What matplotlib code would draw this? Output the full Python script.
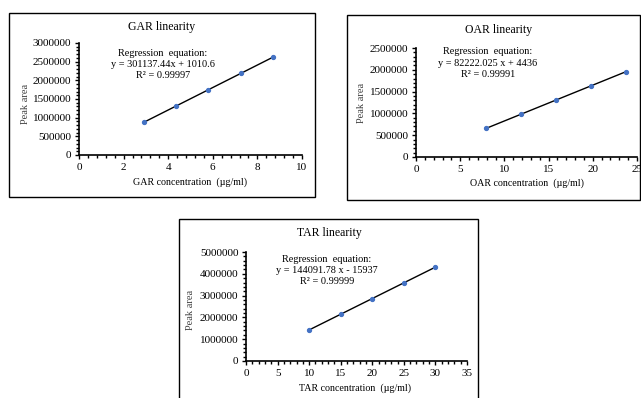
import matplotlib
matplotlib.use("Agg")
import matplotlib.pyplot as plt
from matplotlib.patches import Rectangle
from matplotlib.ticker import MultipleLocator, FuncFormatter
import numpy as np

plt.rcParams['font.family'] = ['Liberation Serif', 'DejaVu Serif']

W, H = 641, 398

gar_x = [2.9, 4.35, 5.8, 7.25, 8.7]
gar_y = [874000, 1311000, 1748000, 2184000, 2621000]
oar_x = [7.9, 11.85, 15.8, 19.75, 23.7]
oar_y = [654000, 979000, 1303000, 1628000, 1953000]
tar_x = [10, 15, 20, 25, 30]
tar_y = [1425000, 2145000, 2866000, 3586000, 4307000]

titles = ["GAR linearity", "OAR linearity", "TAR linearity"]
equations = [
    ["Regression  equation:", "y = 301137.44x + 1010.6", "R² = 0.99997"],
    ["Regression  equation:", "y = 82222.025 x + 4436", "R² = 0.99991"],
    ["Regression  equation:", "y = 144091.78 x - 15937", "R² = 0.99999"],
]
xlabels = ["GAR concentration  (µg/ml)", "OAR concentration  (µg/ml)", "TAR concentration  (µg/ml)"]
ylabel = "Peak area"

fig = plt.figure(figsize=(W / 100, H / 100), dpi=100)


def fx(px):
    return px / W


def fy(py):
    return 1 - py / H


def add_box(x0, y0, x1, y1):
    r = Rectangle((fx(x0), fy(y1)), fx(x1) - fx(x0), fy(y0) - fy(y1),
                  transform=fig.transFigure, fill=False, edgecolor='black', lw=1.0)
    fig.patches.append(r)


def panel(box, ax_px, xs, ys, xlim, xmaj, xmin, ylim, ymaj, ymin, title, title_pos,
          eq, eq_pos, xlabel, xlabel_pos, ylabel_pos):
    add_box(*box)
    x0, y0, x1, y1 = ax_px
    ax = fig.add_axes([fx(x0), fy(y1), fx(x1) - fx(x0), fy(y0) - fy(y1)])
    ax.set_xlim(*xlim)
    ax.set_ylim(*ylim)
    for s in ['top', 'right']:
        ax.spines[s].set_visible(False)
    for s in ['left', 'bottom']:
        ax.spines[s].set_linewidth(1.2)
    ax.xaxis.set_major_locator(MultipleLocator(xmaj))
    ax.xaxis.set_minor_locator(MultipleLocator(xmin))
    ax.yaxis.set_major_locator(MultipleLocator(ymaj))
    ax.yaxis.set_minor_locator(MultipleLocator(ymin))
    ax.yaxis.set_major_formatter(FuncFormatter(lambda v, p: f"{int(round(v))}"))
    ax.xaxis.set_major_formatter(FuncFormatter(lambda v, p: f"{v:g}"))
    ax.tick_params(which='major', direction='out', length=3, width=1, labelsize=8, pad=2.5)
    ax.tick_params(which='minor', direction='out', length=2, width=1)
    ax.patch.set_alpha(0)
    coef = np.polyfit(xs, ys, 1)
    lx = np.array([xs[0], xs[-1]])
    ax.plot(lx, np.polyval(coef, lx), color='black', lw=1.0, zorder=2)
    ax.plot(xs, ys, 'o', color='#4472C4', ms=2.8, zorder=3)
    fig.text(fx(title_pos[0]), fy(title_pos[1]), title, ha='center', va='center', fontsize=8.5)
    for i, line in enumerate(eq):
        fig.text(fx(eq_pos[0]), fy(eq_pos[1] + i * 11.3), line, ha='center', va='center', fontsize=7.4)
    fig.text(fx(xlabel_pos[0]), fy(xlabel_pos[1]), xlabel, ha='center', va='center', fontsize=7.2)
    fig.text(fx(ylabel_pos[0]), fy(ylabel_pos[1]), ylabel, ha='center', va='center',
             fontsize=7.5, rotation=90, color='#404040')
    return ax


panel((9, 13, 315, 197), (79, 43, 302, 155), gar_x, gar_y, (0, 10), 2, 0.4,
      (0, 3000000), 500000, 100000, titles[0], (162, 27), equations[0], (163, 53),
      xlabels[0], (190, 182), (25, 104))
panel((347, 15, 640, 200), (416, 48, 637, 157), oar_x, oar_y, (0, 25), 5, 1,
      (0, 2500000), 500000, 100000, titles[1], (499, 30), equations[1], (488, 52),
      xlabels[1], (527, 183), (361, 103))
panel((179, 219, 478, 400), (246, 252, 467, 361), tar_x, tar_y, (0, 35), 5, 1,
      (0, 5000000), 1000000, 200000, titles[2], (329, 233), equations[2], (327, 259),
      xlabels[2], (355, 388), (190, 310))

fig.savefig("out.png", dpi=100)
